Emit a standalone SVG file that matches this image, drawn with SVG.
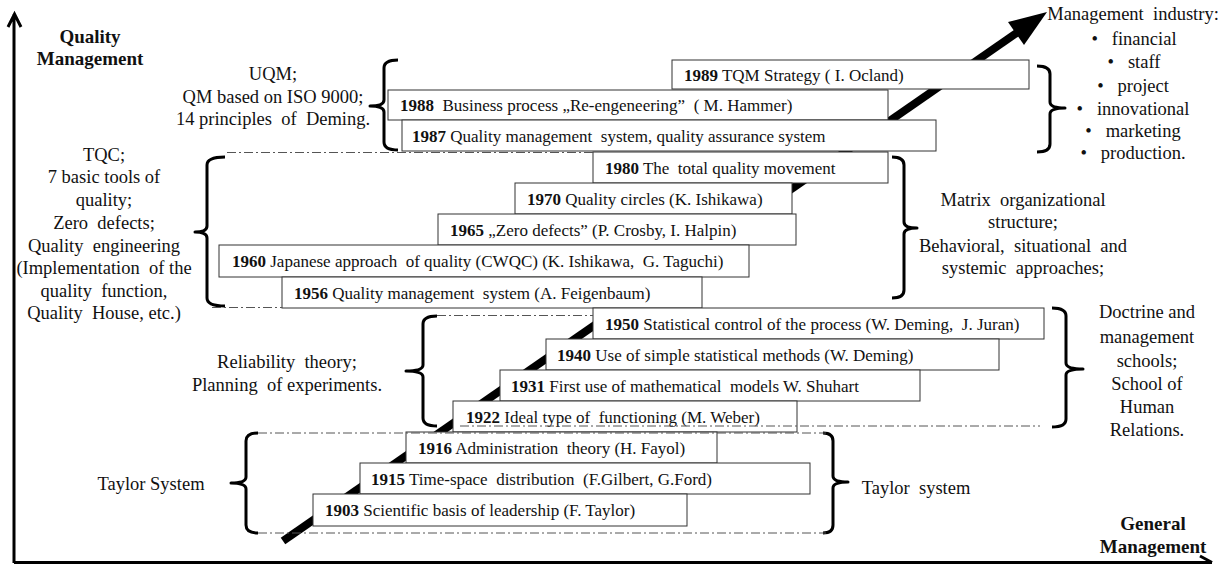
<svg xmlns="http://www.w3.org/2000/svg" width="1227" height="565" viewBox="0 0 1227 565">
<style>
text{font-family:"Liberation Serif","Times New Roman",serif;fill:#111}
.bx rect{fill:#fff;stroke:#333;stroke-width:1}
.bx text{font-size:17px}
.bx text tspan.y{font-weight:bold}
.lbl{font-size:18.5px;text-anchor:middle}
.hd{font-size:19px;font-weight:bold;text-anchor:middle}
.dd{stroke:#555;stroke-width:1;stroke-dasharray:9 3 2 3;fill:none}
.br{fill:none;stroke:#000;stroke-width:3;stroke-linejoin:round}
.ax{fill:none;stroke:#000;stroke-width:3}
</style>
<rect width="1227" height="565" fill="#fff"/>
<g id="axes">
<path class="ax" d="M14,563 V14 M8,27 L14.5,14 L21,27"/>
<path class="ax" d="M14,562.5 H1212 M1200,556 L1212,562.5"/>
</g>
<g id="connectors">
<line x1="283" y1="541" x2="1018" y2="32" stroke="#000" stroke-width="8"/>
<polygon points="1047,12 1024,45 1008,22" fill="#000"/>
</g>
<g id="brackets">
<path class="br" d="M398,60 Q384,60 384,68 V100 Q384,106 370,106 Q384,106 384,112 V142 Q384,150 398,150"/>
<path class="br" d="M225,157 Q207,157 207,165 V226 Q207,232 195,232 Q207,232 207,238 V298 Q207,306 225,306"/>
<path class="br" d="M437,316 Q423,316 423,324 V365 Q423,371 406,371 Q423,371 423,377 V418 Q423,426 437,426"/>
<path class="br" d="M258,433 Q246,433 246,441 V477 Q246,483 231,483 Q246,483 246,489 V525 Q246,533 258,533"/>
<path class="br" d="M1037,66 Q1050,66 1050,74 V102 Q1050,108 1065,108 Q1050,108 1050,114 V144 Q1050,152 1037,152"/>
<path class="br" d="M892,157 Q904,157 904,165 V222 Q904,228 917,228 Q904,228 904,234 V290 Q904,298 892,298"/>
<path class="br" d="M1052,308 Q1066,308 1066,316 V363 Q1066,369 1083,369 Q1066,369 1066,375 V419 Q1066,427 1052,427"/>
<path class="br" d="M823,433 Q833,433 833,441 V476 Q833,482 848,482 Q833,482 833,488 V525 Q833,533 823,533"/>
</g>
<g id="n1989" class="bx"><rect x="672" y="60" width="357" height="29"/><text x="684" y="81"><tspan class="y">1989</tspan> TQM  Strategy ( I. Ocland)</text></g>
<g id="n1988" class="bx"><rect x="388" y="90" width="500" height="30"/><text x="400" y="111" xml:space="preserve"><tspan class="y">1988</tspan>  Business process „Re-engeneering”  ( M. Hammer)</text></g>
<g id="n1987" class="bx"><rect x="402" y="120" width="534" height="31"/><text x="412" y="142" xml:space="preserve"><tspan class="y">1987</tspan> Quality management  system, quality assurance system</text></g>
<g id="n1980" class="bx"><rect x="593" y="152" width="295" height="31"/><text x="605" y="174" xml:space="preserve"><tspan class="y">1980</tspan> The  total quality movement</text></g>
<g id="n1970" class="bx"><rect x="515" y="183" width="277" height="31"/><text x="527" y="205"><tspan class="y">1970</tspan> Quality circles (K. Ishikawa)</text></g>
<g id="n1965" class="bx"><rect x="438" y="214" width="358" height="31"/><text x="450" y="236"><tspan class="y">1965</tspan> „Zero defects” (P. Crosby, I. Halpin)</text></g>
<g id="n1960" class="bx"><rect x="219" y="245" width="530" height="32"/><text x="232" y="267" xml:space="preserve"><tspan class="y">1960</tspan> Japanese approach  of quality (CWQC) (K. Ishikawa,  G. Taguchi)</text></g>
<g id="n1956" class="bx"><rect x="282" y="277" width="420" height="31"/><text x="294" y="299" xml:space="preserve"><tspan class="y">1956</tspan> Quality management  system (A. Feigenbaum)</text></g>
<g id="n1950" class="bx"><rect x="593" y="308" width="451" height="31"/><text x="605" y="330" xml:space="preserve"><tspan class="y">1950</tspan> Statistical control of the process (W. Deming,  J. Juran)</text></g>
<g id="n1940" class="bx"><rect x="546" y="339" width="453" height="31"/><text x="557" y="361"><tspan class="y">1940</tspan> Use of simple statistical methods (W. Deming)</text></g>
<g id="n1931" class="bx"><rect x="500" y="370" width="420" height="31"/><text x="511" y="392" xml:space="preserve"><tspan class="y">1931</tspan> First use of mathematical  models W. Shuhart</text></g>
<g id="n1922" class="bx"><rect x="453" y="401" width="344" height="31"/><text x="466" y="423" xml:space="preserve"><tspan class="y">1922</tspan> Ideal type of  functioning (M. Weber)</text></g>
<g id="n1916" class="bx"><rect x="406" y="432" width="311" height="31"/><text x="418" y="454" xml:space="preserve"><tspan class="y">1916</tspan> Administration  theory (H. Fayol)</text></g>
<g id="n1915" class="bx"><rect x="360" y="463" width="450" height="31"/><text x="371" y="485" xml:space="preserve"><tspan class="y">1915</tspan> Time-space  distribution  (F.Gilbert, G.Ford)</text></g>
<g id="n1903" class="bx"><rect x="313" y="494" width="374" height="32"/><text x="325" y="516"><tspan class="y">1903</tspan> Scientific basis of leadership (F. Taylor)</text></g>
<g id="dashlines">
<line class="dd" x1="227" y1="152.5" x2="593" y2="152.5"/>
<line class="dd" x1="212" y1="307.5" x2="282" y2="307.5"/>
<line class="dd" x1="437" y1="315.5" x2="593" y2="315.5"/>
<line class="dd" x1="460" y1="426" x2="1040" y2="426"/>
<line class="dd" x1="258" y1="433" x2="826" y2="433"/>
<line class="dd" x1="258" y1="533" x2="826" y2="533"/>
</g>
<g id="labels">
<text class="hd" x="90"><tspan x="90" y="43">Quality</tspan><tspan x="90" y="65">Management</tspan></text>
<text class="hd" x="1153"><tspan x="1153" y="530">General</tspan><tspan x="1153" y="553">Management</tspan></text>
<text class="lbl" xml:space="preserve"><tspan x="273" y="80">UQM;</tspan><tspan x="273" y="103">QM based on ISO 9000;</tspan><tspan x="273" y="125">14 principles  of  Deming.</tspan></text>
<text class="lbl" xml:space="preserve"><tspan x="104" y="161">TQC;</tspan><tspan x="104" y="183">7 basic tools of</tspan><tspan x="104" y="206">quality;</tspan><tspan x="104" y="229">Zero  defects;</tspan><tspan x="104" y="252">Quality  engineering</tspan><tspan x="104" y="274">(Implementation  of the</tspan><tspan x="104" y="297">quality  function,</tspan><tspan x="104" y="319">Quality  House, etc.)</tspan></text>
<text class="lbl" xml:space="preserve"><tspan x="1023" y="206">Matrix  organizational</tspan><tspan x="1023" y="228">structure;</tspan><tspan x="1023" y="252">Behavioral,  situational  and</tspan><tspan x="1023" y="274">systemic  approaches;</tspan></text>
<text class="lbl" xml:space="preserve"><tspan x="287" y="368">Reliability  theory;</tspan><tspan x="287" y="391">Planning  of experiments.</tspan></text>
<text class="lbl"><tspan x="1147" y="318">Doctrine and</tspan><tspan x="1147" y="343">management</tspan><tspan x="1147" y="367">schools;</tspan><tspan x="1147" y="390">School of</tspan><tspan x="1147" y="413">Human</tspan><tspan x="1147" y="436">Relations.</tspan></text>
<text class="lbl" x="151" y="490">Taylor System</text>
<text class="lbl" x="916" y="494" xml:space="preserve">Taylor  system</text>
<text class="lbl" xml:space="preserve"><tspan x="1133" y="20">Management  industry:</tspan><tspan x="1134" y="45">•   financial</tspan><tspan x="1134" y="68">•   staff</tspan><tspan x="1133" y="92">•   project</tspan><tspan x="1133" y="115">•   innovational</tspan><tspan x="1133" y="137">•   marketing</tspan><tspan x="1133" y="159">•   production.</tspan></text>
</g>
</svg>
